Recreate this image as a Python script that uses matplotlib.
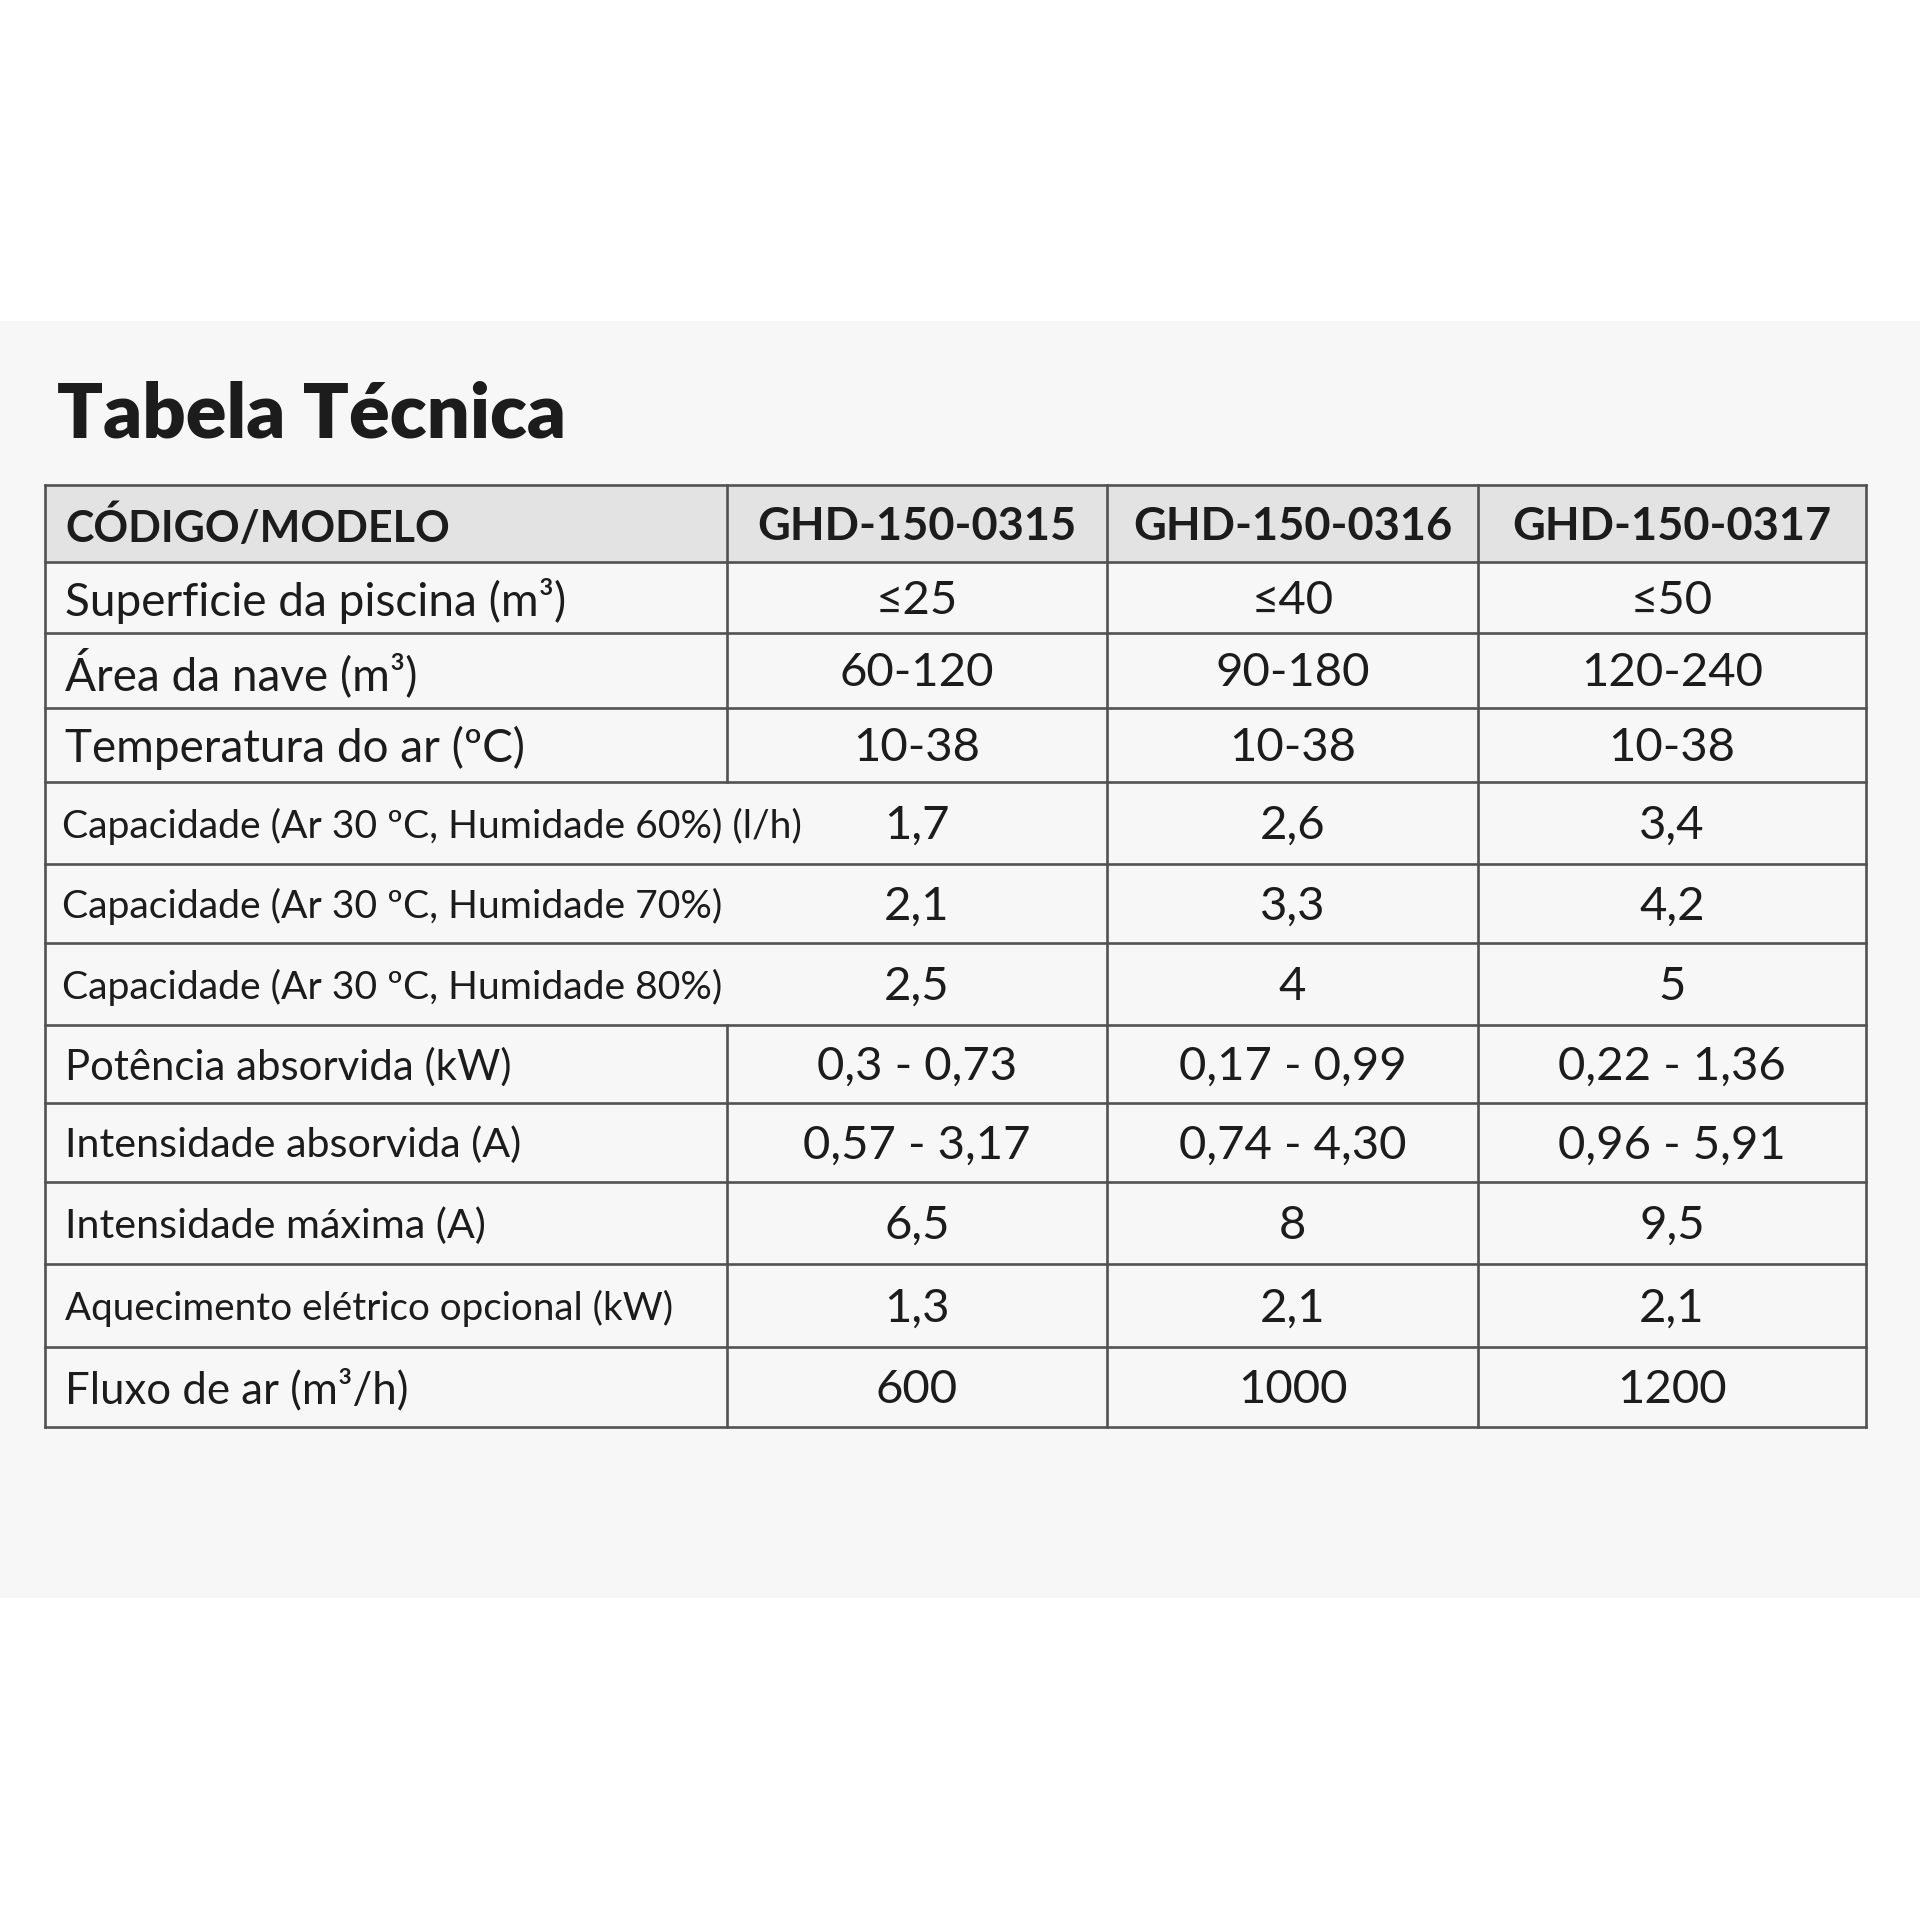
import matplotlib
matplotlib.use("Agg")
import matplotlib.pyplot as plt
from matplotlib.patches import Rectangle

title = "Tabela Técnica"
header = ["CÓDIGO/MODELO", "GHD-150-0315", "GHD-150-0316", "GHD-150-0317"]
row_labels = [
    "Superficie da piscina (m³)",
    "Área da nave (m³)",
    "Temperatura do ar (ºC)",
    "Capacidade (Ar 30 ºC, Humidade 60%) (l/h)",
    "Capacidade (Ar 30 ºC, Humidade 70%)",
    "Capacidade (Ar 30 ºC, Humidade 80%)",
    "Potência absorvida (kW)",
    "Intensidade absorvida (A)",
    "Intensidade máxima (A)",
    "Aquecimento elétrico opcional (kW)",
    "Fluxo de ar (m³/h)",
]
col_0315 = ["≤25", "60-120", "10-38", "1,7", "2,1", "2,5", "0,3 - 0,73", "0,57 - 3,17", "6,5", "1,3", "600"]
col_0316 = ["≤40", "90-180", "10-38", "2,6", "3,3", "4", "0,17 - 0,99", "0,74 - 4,30", "8", "2,1", "1000"]
col_0317 = ["≤50", "120-240", "10-38", "3,4", "4,2", "5", "0,22 - 1,36", "0,96 - 5,91", "9,5", "2,1", "1200"]
open_rows = [3, 4, 5]  # rows without the first column divider

# layout / style (not data)
label_sizes = [33, 33, 33, 28.2, 28.2, 28.2, 30.2, 29.7, 29.7, 27.8, 31.5]
label_pad = [20, 20, 20, 17, 17, 17, 20, 20, 20, 20, 20]

FONT = "Lato"
TXT = "#1c1c1c"
LINE = "#525252"

fig = plt.figure(figsize=(19.2, 19.2), dpi=100)
fig.patch.set_facecolor("white")
ax = fig.add_axes([0, 0, 1, 1])
ax.set_xlim(0, 1920)
ax.set_ylim(1920, 0)
ax.axis("off")

# grey panel
ax.add_patch(Rectangle((0, 321), 1920, 1277, facecolor="#f7f7f7", edgecolor="none", zorder=0))

ax.text(57, 437, title, fontsize=54.5, fontweight="heavy", family=FONT, color=TXT, va="baseline", ha="left")

xs = [45, 727, 1107, 1478, 1866]
ys = [485, 562, 633, 708, 782, 864, 943, 1025, 1103, 1182, 1264, 1347, 1427]

# header fill
ax.add_patch(Rectangle((xs[0], ys[0]), xs[-1] - xs[0], ys[1] - ys[0], facecolor="#e3e3e3", edgecolor="none", zorder=1))

lw = 1.9
for y in ys:
    ax.plot([xs[0], xs[-1]], [y, y], color=LINE, lw=lw, zorder=3, solid_capstyle="projecting")
nrows = len(ys) - 1
for i, x in enumerate(xs):
    if i == 1:
        segs = []
        start = ys[0]
        for k in range(nrows):
            if (k - 1) in open_rows:
                if start is not None:
                    segs.append((start, ys[k]))
                    start = None
            else:
                if start is None:
                    start = ys[k]
        if start is not None:
            segs.append((start, ys[-1]))
        for a, b in segs:
            ax.plot([x, x], [a, b], color=LINE, lw=lw, zorder=3)
    else:
        ax.plot([x, x], [ys[0], ys[-1]], color=LINE, lw=lw, zorder=3)

# header text
hy = (ys[0] + ys[1]) / 2 + 4
ax.text(xs[0] + 20, hy, header[0], fontsize=31, fontweight="bold", family=FONT, color=TXT, va="center", ha="left")
for j in range(1, 4):
    ax.text((xs[j] + xs[j + 1]) / 2, hy, header[j], fontsize=32.5, fontweight="bold", family=FONT, color=TXT,
            va="center", ha="center")

cols = [col_0315, col_0316, col_0317]
for i, lab in enumerate(row_labels):
    cy = (ys[i + 1] + ys[i + 2]) / 2 + 3
    ax.text(xs[0] + label_pad[i], cy, lab, fontsize=label_sizes[i], family=FONT, color=TXT, va="center", ha="left")
    for j in range(3):
        ax.text((xs[j + 1] + xs[j + 2]) / 2, cy, cols[j][i], fontsize=34, family=FONT, color=TXT,
                va="center", ha="center")

fig.savefig("out.png", dpi=100, facecolor="white")
